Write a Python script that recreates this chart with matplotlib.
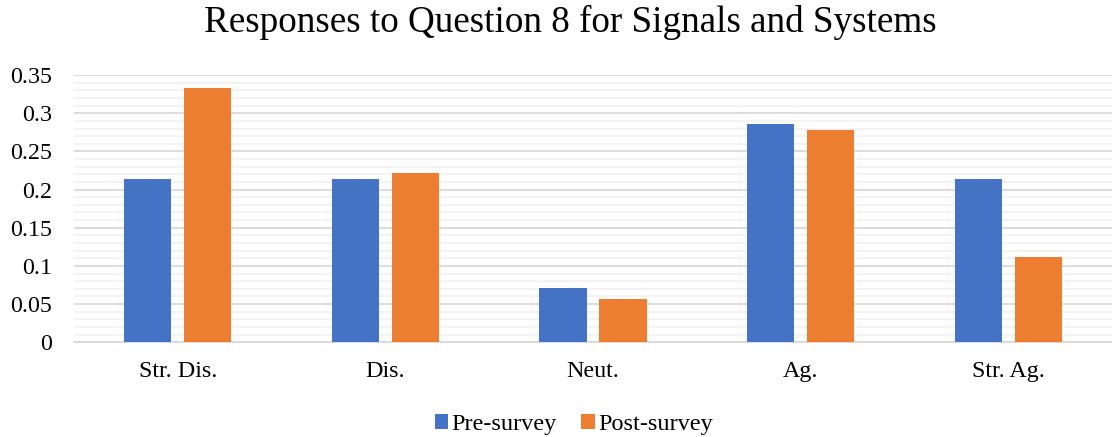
import numpy as np
import matplotlib.pyplot as plt
from matplotlib.ticker import MultipleLocator

categories = ['Str. Dis.', 'Dis.', 'Neut.', 'Ag.', 'Str. Ag.']
pre_survey = [0.214, 0.214, 0.071, 0.286, 0.214]
post_survey = [0.333, 0.222, 0.056, 0.278, 0.111]

plt.rcParams['font.family'] = ['Liberation Serif', 'DejaVu Serif']

fig = plt.figure(figsize=(11.12, 4.37), dpi=100)
ax = fig.add_axes([0.0665, 0.217, 0.9335, 0.611])

x = np.arange(len(categories))
w = 0.227
gap = 0.062
ax.bar(x - (w + gap) / 2, pre_survey, w, color='#4472C4', label='Pre-survey', zorder=3)
ax.bar(x + (w + gap) / 2, post_survey, w, color='#ED7D31', label='Post-survey', zorder=3)

ax.set_xlim(-0.5, len(categories) - 0.5)
ax.set_ylim(0, 0.35)
ax.yaxis.set_minor_locator(MultipleLocator(0.01))
ax.set_yticks(np.arange(0, 0.351, 0.05))
ax.set_yticklabels(['0', '0.05', '0.1', '0.15', '0.2', '0.25', '0.3', '0.35'])
ax.grid(axis='y', which='major', color='#D9D9D9', linewidth=1.3, zorder=0)
ax.grid(axis='y', which='minor', color='#F2F2F2', linewidth=1.3, zorder=0)
ax.set_xticks(x)
ax.set_xticklabels(categories)
ax.tick_params(axis='both', which='both', length=0, labelsize=17.3, colors='#000000')
ax.tick_params(axis='x', pad=13.5)
ax.tick_params(axis='y', pad=15.5)
for s in ['top', 'right', 'left']:
    ax.spines[s].set_visible(False)
ax.spines['bottom'].set_color('#D9D9D9')
ax.spines['bottom'].set_linewidth(1.3)

fig.suptitle('Responses to Question 8 for Signals and Systems', fontsize=26.7, x=0.5126, y=0.99)
fig.legend(loc='lower center', bbox_to_anchor=(0.516, -0.045), ncol=2, frameon=False,
           fontsize=17.5, handlelength=0.55, handleheight=0.55, handletextpad=0.15,
           columnspacing=1.0)

fig.savefig('out.png', dpi=100)
